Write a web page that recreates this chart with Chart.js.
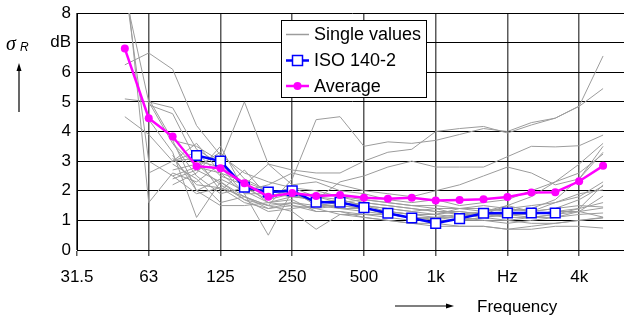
<!DOCTYPE html>
<html>
<head>
<meta charset="utf-8">
<script src="https://cdn.jsdelivr.net/npm/chart.js@4"></script>
<style>
  html, body { margin: 0; padding: 0; background: #fff; overflow: hidden; }
  #wrap { width: 640px; height: 322px; }
</style>
</head>
<body>
<div id="wrap"><canvas id="chart" width="640" height="322"></canvas></div>
<script>
// third-octave bands, 31.5 Hz .. 6.3 kHz
const freqBands = ['31.5', '40', '50', '63', '80', '100', '125', '160', '200', '250', '315', '400',
    '500', '630', '800', '1k', '1.25k', '1.6k', '2k', '2.5k', '3.15k', '4k', '5k', '6.3k'];
const octaveLabels = ['31.5', '63', '125', '250', '500', '1k', 'Hz', '4k'];
const yTickLabels = ['0', '1', '2', '3', '4', '5', '6', 'dB', '8'];

const average = [null, null, 6.8, 4.45, 3.83, 2.83, 2.76, 2.25, 1.8, 1.92, 1.82, 1.86, 1.76, 1.73,
    1.76, 1.67, 1.69, 1.71, 1.79, 1.94, 1.95, 2.32, 2.84];
const iso1402 = [null, null, null, null, null, 3.19, 3.0, 2.12, 1.96, 2.0, 1.61, 1.61, 1.43, 1.24,
    1.08, 0.9, 1.06, 1.24, 1.25, 1.25, 1.25];

const singleValues = [
    [null, null, 9.6, 1.6, 2.6, 2.3, 2.9, 2.2, 1.6, 1.8, 1.7, 1.5, 1.4, 1.3, 1.2, 1.1, 1.1, 1.0, 1.0, 0.9, 0.9, 1.0, 1.1],
    [null, null, 9.0, 3.0, 2.5, 1.9, 2.1, 1.8, 1.4, 1.5, 1.3, 1.3, 1.1, 1.0, 0.9, 0.9, 0.8, 0.8, 0.7, 0.7, 0.8, 0.8, 0.74],
    [null, null, 8.7, 5.0, 3.6, 2.8, 3.3, 2.4, 2.0, 1.9, 1.6, 1.4, 1.4, 1.2, 1.1, 1.0, 1.0, 1.1, 1.2, 1.1, 1.2, 1.4, 2.2],
    [null, null, 6.25, 6.65, 6.1, 4.2, 3.2, 2.6, 2.3, 2.1, 2.0, 1.8, 1.7, 1.6, 1.5, 1.5, 1.4, 1.5, 1.4, 1.3, 1.4, 1.5, 1.45],
    [null, null, 5.1, 5.0, 4.8, 3.4, 2.9, 2.1, 1.9, 2.1, 1.8, 1.6, 1.5, 1.3, 1.2, 1.2, 1.1, 1.3, 1.4, 1.5, 1.6, 1.8, 2.3],
    [null, null, 4.5, 3.9, 3.0, 3.6, 2.6, 2.3, 2.0, 1.8, 1.9, 1.8, 1.6, 1.5, 1.4, 1.3, 1.3, 1.2, 1.2, 1.2, 1.3, 1.4, 1.6],
    [null, null, null, 4.9, 4.6, 3.0, 2.8, 1.9, 0.5, 2.0, 1.5, 1.4, 1.3, 1.2, 1.1, 1.0, 1.0, 1.0, 0.9, 1.0, 1.1, 1.2, 1.25],
    [null, null, null, 4.4, 3.3, 1.1, 2.3, 1.7, 1.5, 1.6, 1.4, 1.2, 1.1, 1.0, 0.9, 0.8, 0.8, 0.8, 0.7, 0.8, 0.9, 1.0, 1.08],
    [null, null, null, 5.1, 3.7, 2.0, 1.5, 1.5, 1.6, 1.7, 1.3, 1.3, 1.2, 1.1, 1.0, 1.1, 1.2, 1.1, 1.0, 1.1, 1.1, 1.3, 1.42],
    [null, null, null, 2.6, 3.0, 3.1, 2.0, 2.7, 1.8, 1.9, 1.6, 1.7, 1.5, 1.4, 1.3, 1.2, 1.4, 1.3, 1.4, 1.3, 1.6, 1.9, 2.03],
    [null, null, null, null, 3.7, 3.5, 3.0, 5.0, 2.9, 2.2, 2.3, 2.0, 1.9, 1.7, 1.6, 1.7, 1.5, 1.6, 1.7, 2.0, 2.3, 2.6, 3.24],
    [null, null, null, null, 2.2, 2.6, 3.5, 2.0, 2.2, 2.6, 2.4, 2.2, 2.0, 1.9, 1.8, 2.0, 2.2, 2.5, 2.8, 2.6, 2.2, 2.4, 3.3],
    [null, null, null, null, 2.9, 2.4, 1.6, 1.8, 1.5, 2.4, 4.4, 4.5, 3.5, 3.65, 3.6, 3.7, 3.9, 4.1, 4.0, 4.3, 4.45, 4.85, 5.45],
    [null, null, null, null, 3.0, 3.3, 2.5, 2.2, 2.9, 2.7, 2.6, 2.6, 3.0, 3.3, 3.4, 4.0, 4.1, 4.17, 3.95, 4.22, 4.45, 4.86, 6.55],
    [null, null, null, null, 2.5, 2.8, 2.6, 1.9, 1.9, 1.8, 1.7, 2.3, 2.5, 2.8, 3.0, 2.8, 2.8, 2.8, 3.15, 3.5, 3.48, 3.52, 3.88],
    [null, null, null, null, 3.2, 2.0, 2.4, 2.0, 1.6, 1.5, 1.4, 1.5, 1.4, 1.3, 1.2, 1.2, 1.3, 1.2, 1.5, 1.3, 1.4, 1.7, 2.16],
    [null, null, null, null, 2.7, 2.9, 2.2, 1.7, 1.3, 1.4, 1.5, 1.5, 1.6, 1.5, 1.4, 1.3, 1.2, 1.2, 1.1, 1.1, 1.2, 1.3, 1.82],
    [null, null, null, null, 3.6, 2.5, 1.9, 2.1, 1.7, 1.9, 1.8, 1.7, 1.5, 1.4, 1.3, 1.4, 1.2, 1.3, 1.5, 1.8, 2.3, 2.9, 3.6],
    [null, null, null, null, 3.1, 2.2, 2.1, 1.6, 1.4, 1.6, 1.5, 1.6, 1.7, 1.6, 1.5, 1.4, 1.4, 1.4, 1.3, 1.4, 1.7, 2.4, 3.5],
    [null, null, null, null, 2.4, 2.7, 2.3, 1.8, 1.5, 1.3, 0.7, 1.2, 1.2, 1.2, 1.1, 1.1, 1.0, 1.1, 1.2, 1.2, 1.3, 1.3, 1.11]
];

const FONT = 'Liberation Sans, Arial, sans-serif';
const GREY = '#9c9c9c';

// extra text + the boxed legend inside the plot
const decorations = {
    id: 'decorations',
    afterDraw(chart) {
        const ctx = chart.ctx;
        ctx.save();
        ctx.fillStyle = '#000';
        ctx.strokeStyle = '#000';

        // sigma_R with upward arrow
        ctx.font = 'italic 20px "Liberation Serif", serif';
        ctx.textBaseline = 'alphabetic';
        ctx.fillText('\u03c3', 6, 50);
        ctx.font = 'italic 12px ' + FONT;
        ctx.fillText('R', 20, 51);
        ctx.lineWidth = 1.2;
        ctx.beginPath();
        ctx.moveTo(19, 112);
        ctx.lineTo(19, 69);
        ctx.stroke();
        ctx.beginPath();
        ctx.moveTo(19, 63);
        ctx.lineTo(16.5, 71);
        ctx.lineTo(21.5, 71);
        ctx.closePath();
        ctx.fill();

        // frequency arrow
        ctx.beginPath();
        ctx.moveTo(395, 306);
        ctx.lineTo(448, 306);
        ctx.stroke();
        ctx.beginPath();
        ctx.moveTo(454, 306);
        ctx.lineTo(446, 303.5);
        ctx.lineTo(446, 308.5);
        ctx.closePath();
        ctx.fill();
        ctx.font = '17px ' + FONT;
        ctx.textBaseline = 'middle';
        ctx.fillText('Frequency', 477, 307);

        // legend box
        const box = { x: 281, y: 20, w: 145, h: 77 };
        ctx.fillStyle = '#fff';
        ctx.fillRect(box.x, box.y, box.w, box.h);
        ctx.lineWidth = 1;
        ctx.strokeRect(box.x + 0.5, box.y + 0.5, box.w, box.h);

        const items = chart.data.datasets.filter(d => d.label).sort((a, b) => b.order - a.order);
        const rows = [34.5, 60.5, 86];
        items.forEach((d, i) => {
            const y = rows[i];
            ctx.strokeStyle = d.borderColor;
            ctx.lineWidth = d.order === 2 ? 1.5 : d.borderWidth;
            ctx.beginPath();
            ctx.moveTo(286, y);
            ctx.lineTo(309, y);
            ctx.stroke();
            if (d.pointRadius > 0) {
                ctx.lineWidth = d.pointBorderWidth || 1;
                ctx.fillStyle = d.pointBackgroundColor;
                ctx.strokeStyle = d.pointBorderColor;
                if (d.pointStyle === 'rect') {
                    ctx.fillRect(292.5, y - 5, 10, 10);
                    ctx.strokeRect(292.5, y - 5, 10, 10);
                } else {
                    ctx.beginPath();
                    ctx.arc(297.5, y, d.pointRadius, 0, Math.PI * 2);
                    ctx.fill();
                }
            }
            ctx.fillStyle = '#000';
            ctx.font = '18px ' + FONT;
            ctx.textBaseline = 'middle';
            ctx.fillText(d.label, 314, y + 1);
        });
        ctx.restore();
    }
};

const datasets = [
    {
        label: 'Average', data: average, order: 0,
        borderColor: '#ff00ff', borderWidth: 2.5,
        pointStyle: 'circle', pointRadius: 4,
        pointBackgroundColor: '#ff00ff', pointBorderColor: '#ff00ff', pointBorderWidth: 0
    },
    {
        label: 'ISO 140-2', data: iso1402, order: 1,
        borderColor: '#0000ff', borderWidth: 2.5,
        pointStyle: 'rect', pointRadius: 6.8,
        pointBackgroundColor: '#ffffff', pointBorderColor: '#0000ff', pointBorderWidth: 1.5
    }
];
singleValues.forEach((vals, i) => {
    datasets.push({
        label: i === 0 ? 'Single values' : '',
        data: vals, order: 2,
        borderColor: GREY, borderWidth: 1,
        pointRadius: 0
    });
});

new Chart(document.getElementById('chart'), {
    type: 'line',
    data: { labels: freqBands, datasets: datasets },
    options: {
        responsive: false,
        animation: false,
        layout: { padding: { left: 0, right: 13, top: 13, bottom: 0 } },
        elements: { line: { tension: 0 } },
        plugins: {
            legend: { display: false },
            tooltip: { enabled: false }
        },
        scales: {
            x: {
                type: 'category',
                offset: false,
                grid: {
                    offset: false,
                    color: c => c.index % 3 === 0 ? '#5a5a5a' : 'rgba(0,0,0,0)',
                    lineWidth: 1.5,
                    tickLength: 6
                },
                border: { color: '#000', width: 1 },
                ticks: {
                    autoSkip: false,
                    maxRotation: 0,
                    padding: 11,
                    color: '#000',
                    font: { family: FONT, size: 17 },
                    callback: (v, i) => i % 3 === 0 ? octaveLabels[i / 3] : ''
                },
                afterFit: s => { s.height = 72; s.paddingLeft = 0; s.paddingRight = 0; }
            },
            y: {
                min: 0,
                max: 8,
                grid: { color: '#000', lineWidth: 1, drawTicks: false },
                border: { color: '#000', width: 1 },
                ticks: {
                    stepSize: 1,
                    padding: 6,
                    color: '#000',
                    font: { family: FONT, size: 17 },
                    callback: v => yTickLabels[v]
                },
                afterFit: s => { s.width = 77; s.paddingTop = 0; s.paddingBottom = 0; }
            }
        }
    },
    plugins: [decorations]
});
</script>
</body>
</html>
